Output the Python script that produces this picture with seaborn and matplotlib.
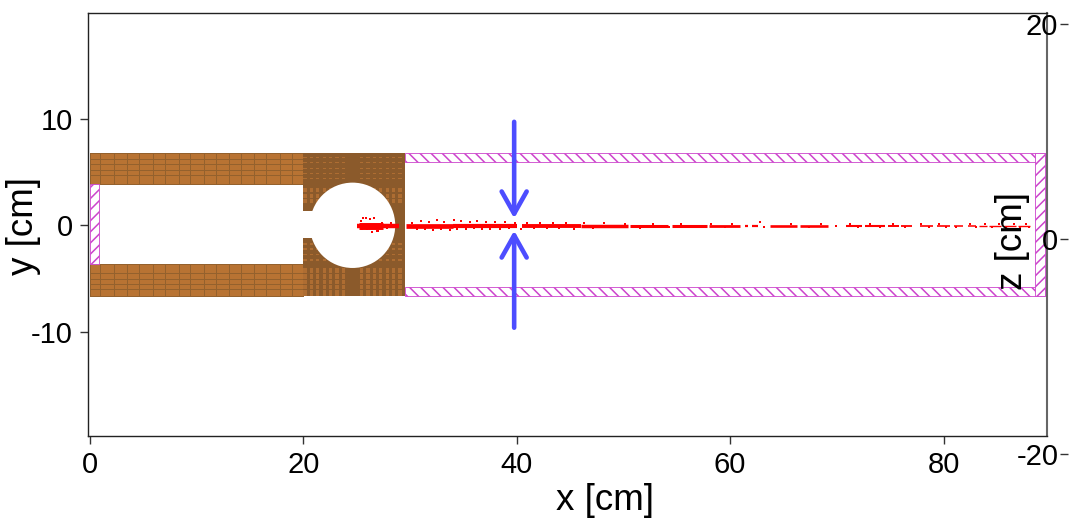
import numpy as np
import pandas as pd
import matplotlib
matplotlib.use("Agg")
import matplotlib.pyplot as plt
from matplotlib.patches import Rectangle, Circle
from matplotlib.colors import ListedColormap
import seaborn as sns

sns.set_theme(style="ticks")
plt.rcParams['font.family'] = ['Liberation Sans', 'DejaVu Sans']
plt.rcParams['hatch.linewidth'] = 1.1
plt.rcParams['axes.unicode_minus'] = False
plt.rcParams['text.color'] = 'black'
plt.rcParams['axes.labelcolor'] = 'black'
plt.rcParams['xtick.labelcolor'] = 'black'
plt.rcParams['ytick.labelcolor'] = 'black'

x_ticks = [0, 20, 40, 60, 80]
y_ticks = [-10, 0, 10]
z_ticks = [-20, 0, 20]

# red streak: solid runs (x start, x end, thickness in points)
run_start = [25.0, 25.2, 29.6, 34.0, 40.5, 46.0, 50.6, 54.5, 58.0, 61.4, 62.0, 63.7, 66.5,
             70.9, 72.6, 74.8, 76.0, 77.8, 79.4, 81.0, 82.3, 83.3, 84.3, 85.6, 87.0]
run_end = [29.0, 27.5, 34.0, 40.0, 46.0, 50.4, 54.2, 57.8, 60.9, 61.7, 62.6, 66.3, 69.2,
           72.4, 74.5, 75.8, 77.0, 79.0, 80.6, 81.8, 83.0, 84.1, 85.4, 86.8, 88.1]
run_width = [3.2, 5.0, 3.4, 3.0, 2.8, 2.5, 2.2, 2.2, 2.0, 1.6, 1.6, 1.9, 1.9,
             1.5, 1.5, 1.4, 1.3, 1.2, 1.2, 1.1, 1.1, 1.0, 1.0, 1.0, 1.0]
run_y = [-0.02] * 25

# red stray droplets
drop_x = [25.6, 25.9, 26.2, 26.6, 27.0, 26.4, 26.9, 25.4, 25.5, 26.0, 27.4, 27.8, 28.2, 30.2, 30.6,
          31.0, 31.4, 31.8, 32.1, 32.5, 32.9, 33.2, 33.7, 34.1, 34.4, 34.8, 35.2, 35.6, 36.0,
          36.3, 36.7, 37.1, 37.5, 38.0, 38.4, 38.9, 39.3, 39.8, 40.4, 41.0, 41.6, 42.2, 42.8, 43.4,
          44.0, 44.6, 45.4, 46.3, 47.1, 48.2, 49.0, 50.1, 51.5, 52.8, 54.3, 55.4, 56.7, 58.2, 59.5,
          60.2, 62.8, 63.2, 65.7, 67.4, 68.5, 69.9, 71.2, 72.0, 73.1, 74.0, 75.3, 76.4, 77.9, 78.6,
          79.6, 80.2, 81.2, 82.5, 83.0, 83.9, 84.5, 85.2, 85.9, 86.6, 87.2, 87.7, 88.0]
drop_y = [0.65, 0.7, 0.6, 0.7, -0.55, -0.6, -0.5, 0.4, -0.3, -0.35, 0.25, -0.25, 0.2, 0.25, -0.3,
          0.4, -0.35, 0.3, -0.4, 0.45, -0.35, 0.35, -0.4, 0.5, -0.3, 0.4, -0.35, 0.35, -0.25,
          0.4, -0.3, 0.3, -0.35, 0.35, -0.3, 0.3, -0.25, 0.25, -0.3, 0.25, -0.25, 0.2, -0.25, 0.25,
          -0.25, 0.2, -0.3, 0.2, -0.25, 0.2, -0.2, 0.15, -0.25, 0.15, -0.2, 0.15, -0.2, 0.1, -0.2,
          0.15, 0.35, -0.2, 0.15, -0.2, 0.1, -0.02, 0.1, -0.18, 0.1, -0.18, 0.1, -0.18, 0.12, -0.18,
          0.1, -0.16, -0.18, 0.1, -0.18, 0.08, -0.16, 0.1, -0.18, 0.1, -0.16, 0.1, -0.18]

# brown mesh edges, cm
band_x_edges = [0.0, 0.9, 2.2, 3.5, 4.6, 5.9, 7.0, 8.3, 9.4, 10.7, 11.8, 13.0, 14.1, 15.4, 16.5, 17.8, 18.9, 20.0]
band_y_edges = [3.85, 4.7, 5.2, 5.7, 6.2, 6.8]
band_y_edges_low = [-3.65, -4.5, -5.0, -5.5, -6.0, -6.6]

# cavity block: column and row widths with a 1 where the cell shows the lighter tone
block_x_edges = [20.0, 20.3, 20.6, 20.9, 21.2, 21.5, 21.8, 22.1, 22.4, 22.7, 23.0, 23.3, 23.6, 23.9, 25.3,
                 25.6, 25.9, 26.2, 26.5, 26.8, 27.1, 27.4, 27.7, 28.0, 28.3, 28.6, 28.9, 29.2, 29.5]
block_col_light = [1, 0, 1, 0, 1, 0, 1, 0, 1, 0, 1, 0, 1, 0, 1, 0, 1, 0, 1, 0, 1, 0, 1, 0, 1, 0, 1, 0]
block_y_edges = [-6.6, -6.1, -6.0, -5.6, -5.5, -5.1, -5.0, -4.6, -4.5, -4.0, -3.65, -3.3, -3.15, -2.8, -2.65,
                 -2.3, -2.15, -1.8, -1.65, 1.95, 2.1, 2.45, 2.6, 2.95, 3.1, 3.45, 3.85, 4.3, 4.4, 4.8, 4.9,
                 5.3, 5.4, 5.8, 5.9, 6.3, 6.4, 6.8]
block_row_light = [1, 0, 1, 0, 1, 0, 1, 0, 1, 0, 0, 1, 0, 1, 0, 1, 0, 1, 0, 0, 1, 0, 1, 0, 1, 0, 0, 1, 0, 1, 0, 1, 0, 1, 0, 1, 0]

BROWN = "#b87333"
BROWN_DARK = "#8b5a2b"
BAND_LINE = "#94612d"
WALL = "#cc44cc"
BLUE = "#4d4dff"
RED = "#ff0000"

fig = plt.figure(figsize=(10.72, 5.20), dpi=100, facecolor="white")
ax = fig.add_axes([88 / 1072, 1 - 436 / 520, (1047 - 88) / 1072, (436 - 13) / 520])
ax.set_facecolor("white")
ax.set_xlim(-0.2, 89.7)
ax.set_ylim(-19.75, 19.9)

# side bands
for ye in (band_y_edges, band_y_edges_low):
    ax.pcolormesh(band_x_edges, ye, np.zeros((len(ye) - 1, len(band_x_edges) - 1)),
                  cmap=ListedColormap([BROWN]), edgecolors=BAND_LINE, linewidth=0.6, zorder=2)

# cavity block
block_cells = np.outer(block_row_light, block_col_light)
ax.pcolormesh(block_x_edges, block_y_edges, block_cells, shading="flat",
              cmap=ListedColormap([BROWN_DARK, "#ae6d32"]), vmin=0, vmax=1, zorder=2)
ax.add_patch(Circle((24.6, 0.0), 4.0, facecolor="white", edgecolor="none", zorder=3))
ax.add_patch(Rectangle((19.8, -1.2), 2.6, 2.5, facecolor="white", edgecolor="none", zorder=3))

# hatched walls
walls = [((29.5, 5.95), 60.0, 0.85, '\\\\\\'), ((29.5, -6.6), 60.0, 0.85, '\\\\\\'),
         ((0.0, -3.65), 0.85, 7.5, '///'), ((88.55, -6.6), 0.95, 13.4, '///')]
for xy, w, h, hatch in walls:
    ax.add_patch(Rectangle(xy, w, h, facecolor="white", edgecolor=WALL, hatch=hatch, linewidth=0.6, zorder=2))

# red streak
ax.hlines(run_y, run_start, run_end, colors=RED, linewidths=run_width, zorder=4)
drops = pd.DataFrame({"x": drop_x, "y": drop_y})
sns.scatterplot(data=drops, x="x", y="y", color=RED, s=2.5, marker="s", linewidth=0, ax=ax, zorder=4)

# arrows
arrow = dict(arrowstyle="->,head_length=0.8,head_width=0.45", color=BLUE, lw=3.3,
             shrinkA=0, shrinkB=0, mutation_scale=20)
ax.annotate("", xy=(39.75, 0.65), xytext=(39.75, 9.7), arrowprops=arrow, zorder=5)
ax.annotate("", xy=(39.75, -0.5), xytext=(39.75, -9.6), arrowprops=arrow, zorder=5)

ax.set_xticks(x_ticks)
ax.set_yticks(y_ticks)
ax.tick_params(axis="both", labelsize=21, length=6, width=1, color="#333333", pad=5)
ax.set_xlabel("x [cm]", fontsize=26.5)
ax.set_ylabel("y [cm]", fontsize=26.5)
ax.xaxis.set_label_coords((605 - 88) / 959, (436 - 518) / 423, transform=ax.transAxes)
ax.xaxis.label.set_va("bottom")
ax.yaxis.set_label_coords((41 - 88) / 959, (436 - 226) / 423, transform=ax.transAxes)
ax.yaxis.label.set_va("bottom")
for s in ax.spines.values():
    s.set_linewidth(1)
    s.set_color("#222222")
ax.spines["right"].set_color("#666666")
ax.spines["right"].set_linewidth(1.5)

# free-floating z axis
az = fig.add_axes([1068 / 1072, 1 - 454 / 520, 0.001, (454 - 24) / 520])
az.patch.set_alpha(0)
az.set_xticks([])
az.set_ylim(-20, 20)
az.set_yticks(z_ticks)
az.tick_params(axis="y", labelsize=21, length=6, width=1, color="#333333", pad=1)
for s in az.spines.values():
    s.set_visible(False)
az.set_ylabel("z [cm]", fontsize=26.5)
az.yaxis.set_label_coords((1030 - 1068) / 1.072, (454 - 241) / 430, transform=az.transAxes)
az.yaxis.label.set_va("bottom")

fig.savefig("out.png", dpi=100, facecolor=fig.get_facecolor())
